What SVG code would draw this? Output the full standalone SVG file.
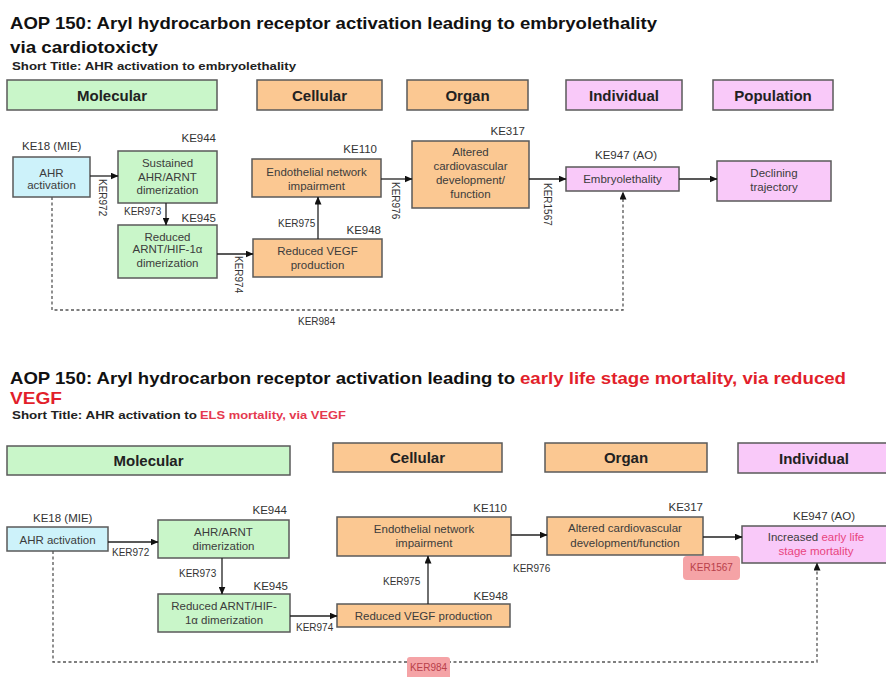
<svg xmlns="http://www.w3.org/2000/svg" width="886" height="677" viewBox="0 0 886 677">
<style>
.title{font-family:"Liberation Sans",Arial,sans-serif;font-weight:bold;font-size:17px;fill:#111}
.short{font-family:"Liberation Sans",Arial,sans-serif;font-weight:bold;font-size:11px;fill:#222}
.red{fill:#e21f2b}
.sred{fill:#e5394f}
.hdr{font-family:"Liberation Sans",Arial,sans-serif;font-weight:bold;font-size:15px;fill:#222;text-anchor:middle}
.box{stroke:#5a5a5a;stroke-width:1.5}
.g{fill:#c9f6c9}
.o{fill:#fbc892}
.p{fill:#f9c9f9}
.c{fill:#cdf2fa}
.nt{font-family:"Liberation Sans",Arial,sans-serif;font-size:11.5px;fill:#3c3c3c;text-anchor:middle}
.ke{font-family:"Liberation Sans",Arial,sans-serif;font-size:11.5px;fill:#333}
.ker{font-family:"Liberation Sans",Arial,sans-serif;font-size:10px;fill:#333}
.ln{stroke:#222;stroke-width:1.3;fill:none}
.dash{stroke:#555;stroke-width:1.3;fill:none;stroke-dasharray:3 2.5}
.hl{fill:#f5a3a6}
.hlt{font-family:"Liberation Sans",Arial,sans-serif;font-size:10px;fill:#b8404a;text-anchor:middle}
.pk{fill:#e8457e}
</style>
<defs>
<marker id="ah" markerWidth="8" markerHeight="7" refX="7.5" refY="3.5" orient="auto" markerUnits="userSpaceOnUse">
<path d="M0,0 L8,3.5 L0,7 Z" fill="#111"/>
</marker>
</defs>
<rect width="886" height="677" fill="#fff"/>

<!-- Top section titles -->
<text class="title" x="10" y="29" textLength="647" lengthAdjust="spacingAndGlyphs">AOP 150: Aryl hydrocarbon receptor activation leading to embryolethality</text>
<text class="title" x="10" y="52.5" textLength="148" lengthAdjust="spacingAndGlyphs">via cardiotoxicty</text>
<text class="short" x="12" y="70" textLength="284" lengthAdjust="spacingAndGlyphs">Short Title: AHR  activation to embryolethality</text>

<!-- Top headers -->
<g id="hdr-top">
<rect class="box g" x="7" y="80" width="210" height="30"/><text class="hdr" x="112" y="100.5">Molecular</text>
<rect class="box o" x="257" y="80" width="125" height="30"/><text class="hdr" x="319.5" y="100.5">Cellular</text>
<rect class="box o" x="407" y="80" width="121" height="30"/><text class="hdr" x="467.5" y="100.5">Organ</text>
<rect class="box p" x="566" y="80" width="116" height="30"/><text class="hdr" x="624" y="100.5">Individual</text>
<rect class="box p" x="713" y="80" width="120" height="30"/><text class="hdr" x="773" y="100.5">Population</text>
</g>

<!-- Top nodes -->
<g id="t-ke18">
<text class="ke" x="22" y="150">KE18 (MIE)</text>
<rect class="box c" x="13" y="157" width="77" height="40"/>
<text class="nt" x="51.5" y="176.5">AHR</text><text class="nt" x="51.5" y="189">activation</text>
</g>
<g id="t-ke944">
<text class="ke" x="216" y="142" text-anchor="end">KE944</text>
<rect class="box g" x="118" y="151" width="99" height="52"/>
<text class="nt" x="167.5" y="167">Sustained</text><text class="nt" x="167.5" y="180.5">AHR/ARNT</text><text class="nt" x="167.5" y="194">dimerization</text>
</g>
<g id="t-ke945">
<text class="ke" x="216" y="222" text-anchor="end">KE945</text>
<rect class="box g" x="118" y="225" width="99" height="53"/>
<text class="nt" x="167.5" y="240.5">Reduced</text><text class="nt" x="167.5" y="253">ARNT/HIF-1α</text><text class="nt" x="167.5" y="267">dimerization</text>
</g>
<g id="t-ke948">
<text class="ke" x="381" y="234" text-anchor="end">KE948</text>
<rect class="box o" x="253" y="239" width="129" height="38"/>
<text class="nt" x="317.5" y="255">Reduced VEGF</text><text class="nt" x="317.5" y="268.5">production</text>
</g>
<g id="t-ke110">
<text class="ke" x="377" y="153" text-anchor="end">KE110</text>
<rect class="box o" x="252" y="159" width="129" height="38"/>
<text class="nt" x="316.5" y="176">Endothelial network</text><text class="nt" x="316.5" y="189.5">impairment</text>
</g>
<g id="t-ke317">
<text class="ke" x="525" y="135" text-anchor="end">KE317</text>
<rect class="box o" x="412" y="141" width="117" height="67"/>
<text class="nt" x="470.5" y="156">Altered</text><text class="nt" x="470.5" y="169.5">cardiovascular</text><text class="nt" x="470.5" y="183.5">development/</text><text class="nt" x="470.5" y="197.5">function</text>
</g>
<g id="t-ke947">
<text class="ke" x="595" y="159">KE947 (AO)</text>
<rect class="box p" x="566" y="167" width="113" height="24"/>
<text class="nt" x="622.5" y="183">Embryolethality</text>
</g>
<g id="t-pop">
<rect class="box p" x="717" y="161" width="114" height="40"/>
<text class="nt" x="774" y="177">Declining</text><text class="nt" x="774" y="191">trajectory</text>
</g>

<!-- Top connectors -->
<g id="t-connectors">
<line class="ln" x1="90" y1="176" x2="118" y2="176" marker-end="url(#ah)"/>
<text class="ker" x="99" y="179" transform="rotate(90 99 179)">KER972</text>
<line class="ln" x1="166" y1="203" x2="166" y2="225" marker-end="url(#ah)"/>
<text class="ker" x="124" y="215">KER973</text>
<line class="ln" x1="217" y1="254" x2="253" y2="254" marker-end="url(#ah)"/>
<text class="ker" x="235" y="256" transform="rotate(90 235 256)">KER974</text>
<line class="ln" x1="318" y1="239" x2="318" y2="197" marker-end="url(#ah)"/>
<text class="ker" x="278" y="226.5">KER975</text>
<line class="ln" x1="381" y1="179" x2="412" y2="179" marker-end="url(#ah)"/>
<text class="ker" x="392" y="182" transform="rotate(90 392 182)">KER976</text>
<line class="ln" x1="529" y1="179" x2="566" y2="179" marker-end="url(#ah)"/>
<text class="ker" x="544" y="183" transform="rotate(90 544 183)">KER1567</text>
<line class="ln" x1="679" y1="179" x2="717" y2="179" marker-end="url(#ah)"/>
<path class="dash" d="M52,197 V310 H623 V192" marker-end="url(#ah)"/>
<text class="ker" x="298" y="325">KER984</text>
</g>

<!-- Bottom section titles -->
<text class="title" x="10" y="384" textLength="505" lengthAdjust="spacingAndGlyphs">AOP 150: Aryl hydrocarbon receptor activation leading to</text>
<text class="title red" x="520" y="384" textLength="326" lengthAdjust="spacingAndGlyphs">early life stage mortality, via reduced</text>
<text class="title red" x="10" y="404" textLength="52" lengthAdjust="spacingAndGlyphs">VEGF</text>
<text class="short" x="12" y="419" textLength="185" lengthAdjust="spacingAndGlyphs">Short Title: AHR  activation to</text>
<text class="short sred" x="200" y="419" textLength="146" lengthAdjust="spacingAndGlyphs">ELS mortality, via VEGF</text>

<!-- Bottom headers -->
<g id="hdr-bottom">
<rect class="box g" x="7" y="446" width="283" height="29"/><text class="hdr" x="148.5" y="466">Molecular</text>
<rect class="box o" x="333" y="443" width="169" height="29"/><text class="hdr" x="417.5" y="463">Cellular</text>
<rect class="box o" x="545" y="443" width="162" height="29"/><text class="hdr" x="626" y="463">Organ</text>
<rect class="box p" x="738" y="443" width="152" height="30"/><text class="hdr" x="814" y="463.5">Individual</text>
</g>

<!-- Bottom nodes -->
<g id="b-ke18">
<text class="ke" x="33" y="522">KE18 (MIE)</text>
<rect class="box c" x="7" y="527" width="101" height="24"/>
<text class="nt" x="57.5" y="543.5">AHR activation</text>
</g>
<g id="b-ke944">
<text class="ke" x="287" y="514" text-anchor="end">KE944</text>
<rect class="box g" x="158" y="520" width="131" height="38"/>
<text class="nt" x="223.5" y="535.5">AHR/ARNT</text><text class="nt" x="223.5" y="549.5">dimerization</text>
</g>
<g id="b-ke945">
<text class="ke" x="288" y="590" text-anchor="end">KE945</text>
<rect class="box g" x="158" y="594" width="132" height="38"/>
<text class="nt" x="224" y="610">Reduced ARNT/HIF-</text><text class="nt" x="224" y="624">1α dimerization</text>
</g>
<g id="b-ke948">
<text class="ke" x="508" y="600" text-anchor="end">KE948</text>
<rect class="box o" x="337" y="604" width="173" height="23"/>
<text class="nt" x="423.5" y="620">Reduced VEGF production</text>
</g>
<g id="b-ke110">
<text class="ke" x="507" y="511.5" text-anchor="end">KE110</text>
<rect class="box o" x="337" y="517" width="174" height="39"/>
<text class="nt" x="424" y="533">Endothelial network</text><text class="nt" x="424" y="547">impairment</text>
</g>
<g id="b-ke317">
<text class="ke" x="703" y="511" text-anchor="end">KE317</text>
<rect class="box o" x="547" y="517" width="156" height="38"/>
<text class="nt" x="625" y="532">Altered cardiovascular</text><text class="nt" x="625" y="546.5">development/function</text>
</g>
<g id="b-ke947">
<text class="ke" x="793" y="520">KE947 (AO)</text>
<rect class="box p" x="742" y="526" width="150" height="37"/>
<text class="nt" x="816" y="541">Increased <tspan class="pk">early life</tspan></text>
<text class="nt pk" x="816" y="554.5">stage mortality</text>
</g>

<!-- Bottom connectors -->
<g id="b-connectors">
<line class="ln" x1="108" y1="542" x2="158" y2="542" marker-end="url(#ah)"/>
<text class="ker" x="112" y="556">KER972</text>
<line class="ln" x1="222" y1="558" x2="222" y2="594" marker-end="url(#ah)"/>
<text class="ker" x="179" y="577">KER973</text>
<line class="ln" x1="290" y1="616" x2="337" y2="616" marker-end="url(#ah)"/>
<text class="ker" x="296" y="631">KER974</text>
<line class="ln" x1="428" y1="604" x2="428" y2="556" marker-end="url(#ah)"/>
<text class="ker" x="383" y="585">KER975</text>
<line class="ln" x1="511" y1="535" x2="547" y2="535" marker-end="url(#ah)"/>
<text class="ker" x="513" y="572">KER976</text>
<line class="ln" x1="703" y1="537" x2="742" y2="537" marker-end="url(#ah)"/>
<rect class="hl" x="683" y="556" width="57" height="24" rx="4"/>
<text class="hlt" x="711.5" y="571">KER1567</text>
<path class="dash" d="M53,551 V662 H817 V563" marker-end="url(#ah)"/>
<rect class="hl" x="407" y="657" width="43" height="22" rx="3"/>
<text class="hlt" x="428.5" y="671">KER984</text>
</g>
</svg>
